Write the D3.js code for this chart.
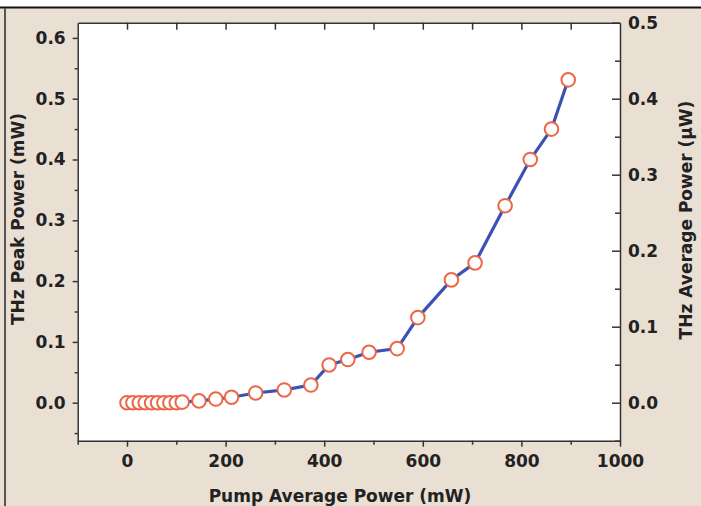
<!DOCTYPE html>
<html lang="en">
<head>
    <meta charset="UTF-8">
    <title>THz Power vs Pump Power</title>
    <script src="https://d3js.org/d3.v7.min.js"></script>
    <style>
        body { margin: 0; background: #e9dfd3; }
        svg { display: block; }
        .tick text, .label { font-family: "DejaVu Sans", sans-serif; font-weight: bold; fill: #222; }
        .domain, .tick line { stroke: #333; stroke-width: 1.5; }
    </style>
</head>
<body>
    <div id="chart"></div>

    <script>
        const width = 701;
        const height = 506;

        // Data
        const pumpPower = [0, 12, 25, 37, 50, 62, 75, 87, 100, 112, 146, 180, 212, 261, 319, 373, 410, 448, 491, 548, 590, 658, 706, 767, 818, 861, 895];
        const peakPower = [0, 0, 0, 0, 0, 0, 0, 0, 0, 0.001, 0.003, 0.006, 0.009, 0.016, 0.021, 0.029, 0.062, 0.071, 0.083, 0.089, 0.140, 0.202, 0.230, 0.324, 0.400, 0.450, 0.531];

        const xTicks = [0, 200, 400, 600, 800, 1000];
        const xMinor = [-100, 100, 300, 500, 700, 900];
        const xTop = [0, 100, 200, 300, 400, 500, 600, 700, 800, 900];
        const leftTicks = [0, 0.1, 0.2, 0.3, 0.4, 0.5, 0.6];
        const leftMinor = [-0.05, 0.05, 0.15, 0.25, 0.35, 0.45, 0.55];
        const rightTicks = [0, 0.1, 0.2, 0.3, 0.4, 0.5];
        const rightMinor = [-0.05, 0.05, 0.15, 0.25, 0.35, 0.45];

        const plot = { left: 77.7, right: 620, top: 22.7, bottom: 440.7 };

        const svg = d3.select("#chart")
            .append("svg")
            .attr("width", width)
            .attr("height", height);

        // page bits: white strip at the top, black rule, left border
        svg.append("rect").attr("x", 0).attr("y", 0).attr("width", width).attr("height", 7).attr("fill", "#fff");
        svg.append("line").attr("x1", 0).attr("x2", width).attr("y1", 7.5).attr("y2", 7.5)
            .attr("stroke", "#111").attr("stroke-width", 2);
        svg.append("line").attr("x1", 5).attr("x2", 5).attr("y1", 8).attr("y2", height)
            .attr("stroke", "#555").attr("stroke-width", 2);

        const x = d3.scaleLinear().domain([-100, 1000]).range([plot.left, plot.right]);
        const yLeft = d3.scaleLinear().domain([-0.0625, 0.625]).range([plot.bottom, plot.top]);
        const yRight = d3.scaleLinear().domain([-0.05, 0.5]).range([plot.bottom, plot.top]);

        svg.append("rect")
            .attr("x", plot.left).attr("y", plot.top)
            .attr("width", plot.right - plot.left).attr("height", plot.bottom - plot.top)
            .attr("fill", "#fff");

        // bottom axis
        svg.append("g")
            .attr("transform", `translate(0,${plot.bottom})`)
            .call(d3.axisBottom(x).tickValues(xMinor).tickSize(4).tickFormat(""))
            .call(g => g.select(".domain").remove());
        svg.append("g")
            .attr("transform", `translate(0,${plot.bottom})`)
            .call(d3.axisBottom(x).tickValues(xTicks).tickSize(6).tickPadding(8).tickSizeOuter(0).tickFormat(d3.format("d")))
            .call(g => g.selectAll("text").style("font-size", "17px"));

        // top axis (inward ticks only)
        svg.append("g")
            .attr("transform", `translate(0,${plot.top})`)
            .call(d3.axisTop(x).tickValues(xTop).tickSize(-7).tickSizeOuter(0).tickFormat(""));

        // left axis
        svg.append("g")
            .attr("transform", `translate(${plot.left},0)`)
            .call(d3.axisLeft(yLeft).tickValues(leftMinor).tickSize(3).tickFormat(""))
            .call(g => g.select(".domain").remove());
        svg.append("g")
            .attr("transform", `translate(${plot.left},0)`)
            .call(d3.axisLeft(yLeft).tickValues(leftTicks).tickSize(5).tickPadding(7).tickSizeOuter(0).tickFormat(d3.format(".1f")))
            .call(g => g.selectAll("text").style("font-size", "17px"));

        // right axis (inward ticks)
        svg.append("g")
            .attr("transform", `translate(${plot.right},0)`)
            .call(d3.axisRight(yRight).tickValues(rightMinor).tickSize(-5).tickFormat(""))
            .call(g => g.select(".domain").remove());
        svg.append("g")
            .attr("transform", `translate(${plot.right},0)`)
            .call(d3.axisRight(yRight).tickValues(rightTicks).tickSize(-8).tickPadding(8).tickSizeOuter(0).tickFormat(d3.format(".1f")))
            .call(g => g.selectAll("text").style("font-size", "17px"));

        // axis titles
        svg.append("text").attr("class", "label")
            .attr("x", 340).attr("y", 502)
            .attr("text-anchor", "middle")
            .style("font-size", "17px")
            .text("Pump Average Power (mW)");
        svg.append("text").attr("class", "label")
            .attr("transform", "translate(24,219) rotate(-90)")
            .attr("text-anchor", "middle")
            .style("font-size", "17px")
            .text("THz Peak Power (mW)");
        svg.append("text").attr("class", "label")
            .attr("transform", "translate(692,220) rotate(-90)")
            .attr("text-anchor", "middle")
            .style("font-size", "17px")
            .text("THz Average Power (\u03bcW)");

        // data line and markers
        const line = d3.line()
            .x((d, i) => x(pumpPower[i]))
            .y(d => yLeft(d));

        svg.append("path")
            .datum(peakPower)
            .attr("d", line)
            .attr("fill", "none")
            .attr("stroke", "#3b52b4")
            .attr("stroke-width", 3.2);

        svg.selectAll("circle.pt")
            .data(peakPower)
            .enter()
            .append("circle")
            .attr("class", "pt")
            .attr("cx", (d, i) => x(pumpPower[i]))
            .attr("cy", d => yLeft(d))
            .attr("r", 6.8)
            .attr("fill", "#fff")
            .attr("stroke", "#ec6748")
            .attr("stroke-width", 2);
    </script>
</body>
</html>
